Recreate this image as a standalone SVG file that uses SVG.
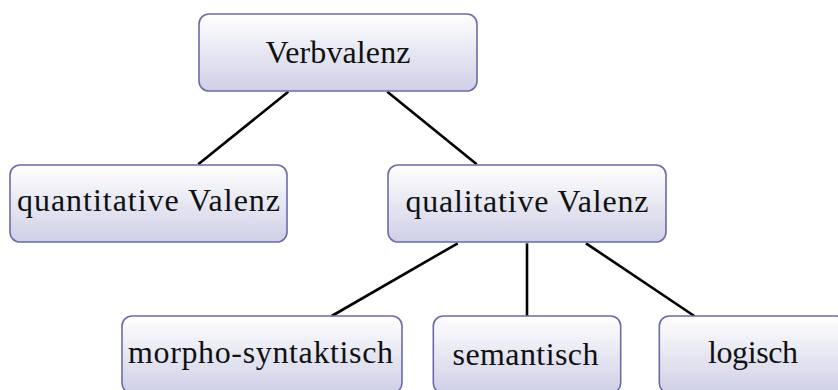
<svg xmlns="http://www.w3.org/2000/svg" width="838" height="390" viewBox="0 0 838 390">
<defs>
<linearGradient id="g" x1="0" y1="0" x2="0" y2="1">
<stop offset="0" stop-color="#ffffff"/>
<stop offset="1" stop-color="#cfcfe6"/>
</linearGradient>
<style>
.box{fill:url(#g);stroke:#6b6bab;stroke-width:1.6}
.t{font-family:"Liberation Serif","Times New Roman",serif;font-size:32px;fill:#111;text-anchor:middle}
.c line{stroke:#000;stroke-width:2.6;stroke-linecap:butt}
</style>
</defs>
<rect width="838" height="390" fill="#fff"/>
<g class="c" id="connectors">
<line x1="288.3" y1="91.7" x2="198.3" y2="164.3"/>
<line x1="387.3" y1="91.7" x2="476.7" y2="164.3"/>
<line x1="457.7" y1="243.3" x2="331.7" y2="316"/>
<line x1="527" y1="243.3" x2="527" y2="316"/>
<line x1="586" y1="243.3" x2="694.3" y2="316"/>
</g>
<g id="verbvalenz">
<rect class="box" x="199" y="14" width="278" height="77" rx="10"/>
<text class="t" x="338" y="63" textLength="145">Verbvalenz</text>
</g>
<g id="quantitative">
<rect class="box" x="10" y="165" width="277" height="77" rx="10"/>
<text class="t" x="148.5" y="210.5" textLength="263">quantitative Valenz</text>
</g>
<g id="qualitative">
<rect class="box" x="388" y="165" width="278" height="77" rx="10"/>
<text class="t" x="527" y="211.5" textLength="243">qualitative Valenz</text>
</g>
<g id="morpho">
<rect class="box" x="122" y="316" width="280" height="77" rx="10"/>
<text class="t" x="260.5" y="363.3" textLength="265">morpho-syntaktisch</text>
</g>
<g id="semantisch">
<rect class="box" x="433.3" y="316" width="187.4" height="77" rx="10"/>
<text class="t" x="525.5" y="365" textLength="146">semantisch</text>
</g>
<g id="logisch">
<rect class="box" x="659.3" y="316" width="187.4" height="77" rx="10"/>
<text class="t" x="753" y="363.3" textLength="90">logisch</text>
</g>
</svg>
